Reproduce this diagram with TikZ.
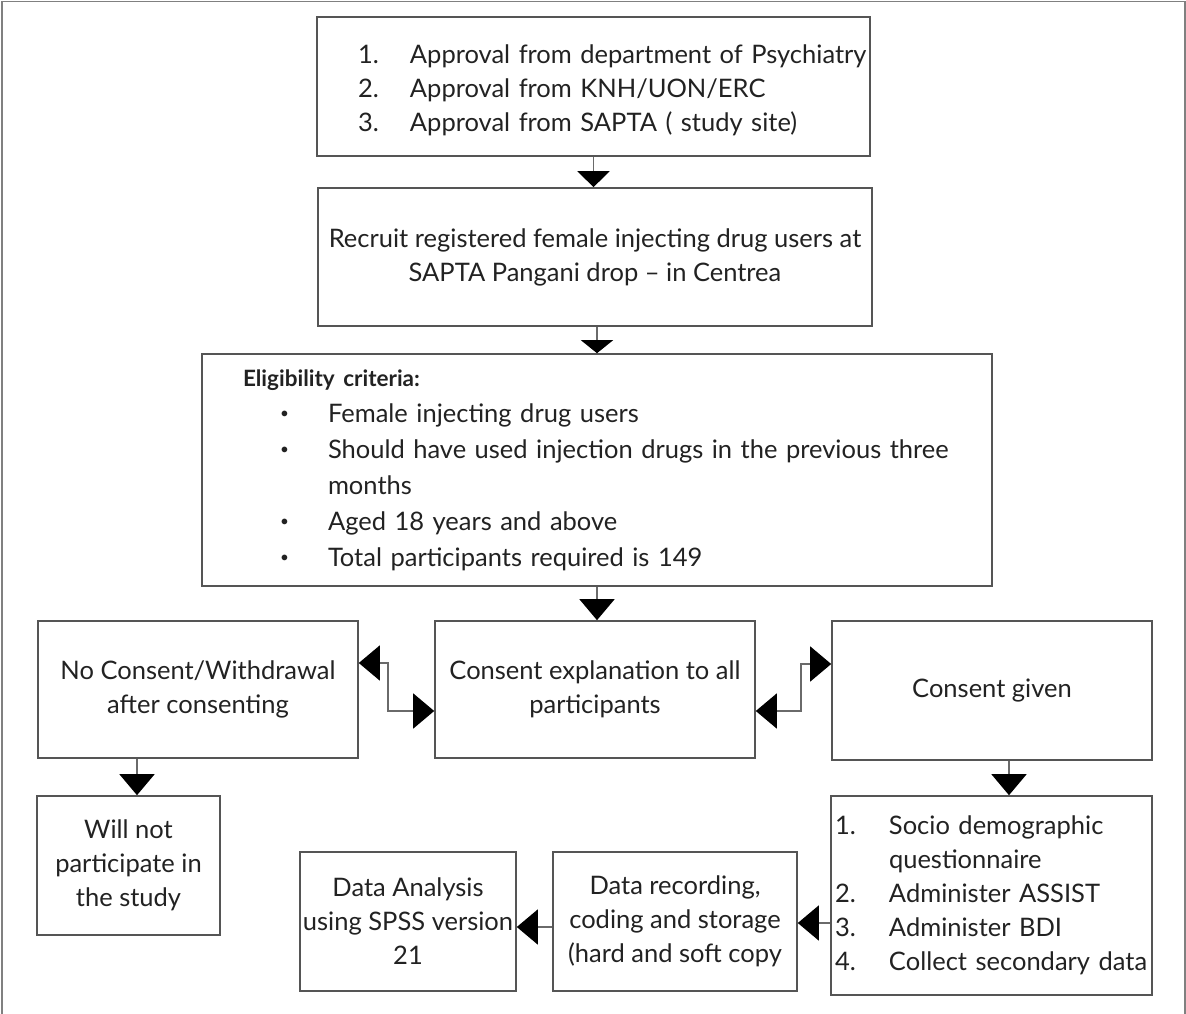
\documentclass[tikz,border=0pt]{standalone}
\usepackage{fontspec}
\setmainfont{Lato}
\usepackage{xcolor}
\usetikzlibrary{arrows.meta}

\definecolor{boxline}{HTML}{555555}
\definecolor{frameline}{HTML}{808080}
\definecolor{lineg}{HTML}{6A6A6A}
\definecolor{ink}{HTML}{222222}

\newcommand{\boxfont}{\fontsize{25.5}{34}\selectfont}
\newcommand{\eligfont}{\fontsize{25.5}{36}\selectfont}
\newcommand{\dotmark}{\raisebox{0.3ex}{\scalebox{0.6}{\textbullet}}}
% indent, label column, label, text
\newcommand{\numrow}[4]{\hspace*{#1}\makebox[#2][l]{#3}\mbox{#4}}

\begin{document}
\begin{tikzpicture}[x=1pt, y=-1pt,
  box/.style={draw=boxline, line width=1.6pt, text=ink, inner xsep=4pt, inner ysep=0pt, font=\boxfont},
  conn/.style={draw=lineg, line width=1.4pt},
  >={Triangle[width=35pt,length=21pt,color=black]}]
\useasboundingbox (0,0) rectangle (1186,1014);
\draw[frameline, line width=1.5pt] (2,1014) -- (2,1.5) -- (1185,1.5) -- (1185,1014); % outer frame

% boxes
\node[box, text width=545pt, minimum height=139pt, align=left] (appr) at (593.5,86.5) {
  \rule{0pt}{26pt}\numrow{37pt}{52pt}{1.}{Approval from department of Psychiatry}\\
  \numrow{37pt}{52pt}{2.}{Approval from KNH/UON/ERC}\\
  \numrow{37pt}{52pt}{3.}{Approval from SAPTA ( study site)}};
\node[box, minimum width=554pt, minimum height=138pt, align=center] (recr) at (595,257)
  {Recruit registered female injecting drug users at\\SAPTA Pangani drop – in Centrea};
\node[box, text width=782pt, minimum height=232pt, align=left, font=\eligfont] (elig) at (597,470) {
  \hspace*{37pt}{\fontsize{22.5}{36}\selectfont\bfseries Eligibility criteria:}\\
  \numrow{74pt}{48pt}{\dotmark}{Female injecting drug users}\\
  \numrow{74pt}{48pt}{\dotmark}{Should have used injection drugs in the previous three}\\
  \hspace*{122pt}months\\
  \numrow{74pt}{48pt}{\dotmark}{Aged 18 years and above}\\
  \numrow{74pt}{48pt}{\dotmark}{Total participants required is 149}};
\node[box, minimum width=320pt, minimum height=137pt, align=center] (refuse) at (198,689.5)
  {No Consent/Withdrawal\\after consenting};
\node[box, minimum width=320pt, minimum height=137pt, align=center] (expl) at (595,689.5)
  {Consent explanation to all\\participants};
\node[box, minimum width=320pt, minimum height=139pt, align=center] (given) at (992,690.5)
  {Consent given};
\node[box, minimum width=183pt, minimum height=139pt, align=center] (nopart) at (128.5,865.5)
  {Will not\\participate in\\the study};
\node[box, minimum width=216pt, minimum height=139pt, inner xsep=0pt, align=center] (analysis) at (408,921.5)
  {Data Analysis\\using SPSS version\\21};
\node[box, minimum width=244pt, minimum height=139pt, inner xsep=0pt, align=center] (record) at (675,921.5)
  {Data recording,\\coding and storage\\(hard and soft copy};
\node[box, text width=313pt, minimum height=199pt, align=left] (tasks) at (991.5,895.5) {
  \numrow{0pt}{54pt}{1.}{Socio demographic}\\
  \hspace*{54pt}questionnaire\\
  \numrow{0pt}{54pt}{2.}{Administer ASSIST}\\
  \numrow{0pt}{54pt}{3.}{Administer BDI}\\
  \numrow{0pt}{54pt}{4.}{Collect secondary data}};

% connectors
\draw[conn, -{Triangle[width=32pt,length=16pt,color=black]}] (appr.south) -- (appr.south |- recr.north);
\draw[conn, -{Triangle[width=32pt,length=13pt,color=black]}] (recr.south -| elig.north) -- (elig.north);
\draw[conn, ->] (elig.south) -- (elig.south |- expl.north);
\draw[conn, <->] (refuse.east |- 0,663) -| (388,711) -- (expl.west |- 0,711);
\draw[conn, <->] (expl.east |- 0,711) -| (801,664) -- (given.west |- 0,664);
\draw[conn, ->] (refuse.south -| 137,0) -- (nopart.north -| 137,0);
\draw[conn, ->] (given.south -| 1009,0) -- (tasks.north -| 1009,0);
\draw[conn, ->] (tasks.west |- 0,923) -- (record.east |- 0,923);
\draw[conn, ->] (record.west |- 0,927) -- (analysis.east |- 0,927);
\end{tikzpicture}
\end{document}
